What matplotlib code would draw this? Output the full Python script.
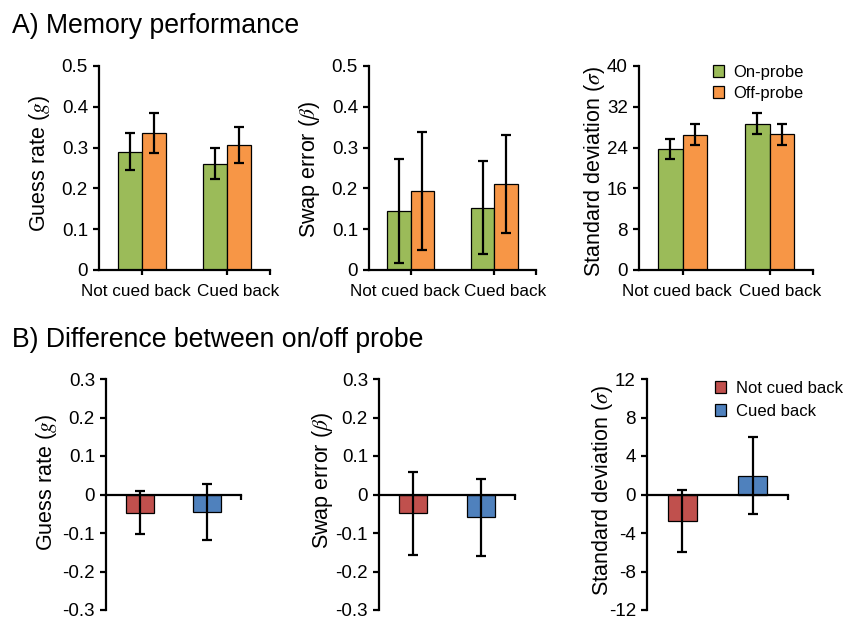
import matplotlib
matplotlib.use('Agg')
import matplotlib.pyplot as plt
import numpy as np
from matplotlib.patches import Patch

plt.rcParams['font.family'] = ['Liberation Sans', 'DejaVu Sans']
plt.rcParams['mathtext.fontset'] = 'stix'

# ---------------- data ----------------
categories = ['Not cued back', 'Cued back']
conditions = ['On-probe', 'Off-probe']

guess_on = [0.290, 0.261]
guess_on_err = [0.045, 0.037]
guess_off = [0.336, 0.306]
guess_off_err = [0.049, 0.044]

swap_on = [0.145, 0.153]
swap_on_err = [0.127, 0.113]
swap_off = [0.194, 0.211]
swap_off_err = [0.144, 0.120]

sd_on = [23.75, 28.65]
sd_on_err = [2.0, 2.05]
sd_off = [26.56, 26.62]
sd_off_err = [2.1, 2.1]

diff_labels = ['Not cued back', 'Cued back']
diff_guess = [-0.047, -0.046]
diff_guess_err = [0.056, 0.072]
diff_swap = [-0.049, -0.059]
diff_swap_err = [0.107, 0.100]
diff_sd = [-2.76, 1.97]
diff_sd_err = [3.2, 4.0]

top_yticks = [
    [0, 0.1, 0.2, 0.3, 0.4, 0.5],
    [0, 0.1, 0.2, 0.3, 0.4, 0.5],
    [0, 8, 16, 24, 32, 40],
]
top_yticklabels = [
    ['0', '0.1', '0.2', '0.3', '0.4', '0.5'],
    ['0', '0.1', '0.2', '0.3', '0.4', '0.5'],
    ['0', '8', '16', '24', '32', '40'],
]
bot_yticks = [
    [-0.3, -0.2, -0.1, 0, 0.1, 0.2, 0.3],
    [-0.3, -0.2, -0.1, 0, 0.1, 0.2, 0.3],
    [-12, -8, -4, 0, 4, 8, 12],
]
bot_yticklabels = [
    ['-0.3', '-0.2', '-0.1', '0', '0.1', '0.2', '0.3'],
    ['-0.3', '-0.2', '-0.1', '0', '0.1', '0.2', '0.3'],
    ['-12', '-8', '-4', '0', '4', '8', '12'],
]
ylabels = ['Guess rate ($\\mathit{g}$)', 'Swap error ($\\mathit{\\beta}$)',
           'Standard deviation ($\\mathit{\\sigma}$)']

GREEN = '#9BBB59'
ORANGE = '#F79646'
RED = '#C0504D'
BLUE = '#4F81BD'

W, H = 846, 620
fig = plt.figure(figsize=(W / 100, H / 100), dpi=100)


def ax_px(x0, x1, y0, y1):
    return fig.add_axes([x0 / W, (H - y1) / H, (x1 - x0) / W, (y1 - y0) / H])


LW = 1.6
FS = 12.3
YFS = 13.5
LFS = 15.5


def style(ax):
    for s in ['top', 'right']:
        ax.spines[s].set_visible(False)
    for s in ['left', 'bottom']:
        ax.spines[s].set_linewidth(LW)
    ax.tick_params(axis='y', direction='out', length=4, width=LW, labelsize=YFS, pad=4)
    ax.tick_params(axis='x', direction='out', length=3.5, width=LW, labelsize=FS)


def place_ylabel(ax, box, xc, yfrac, text):
    ax.set_ylabel(text, fontsize=LFS)
    ax.yaxis.label.set_va('center')
    ax.yaxis.set_label_coords((xc - box[0]) / (box[1] - box[0]), yfrac)


# ---------------- top row ----------------
top_boxes = [(99, 270, 66, 270), (369, 536, 66, 270), (639, 813, 66, 270)]
top_on = [guess_on, swap_on, sd_on]
top_on_err = [guess_on_err, swap_on_err, sd_on_err]
top_off = [guess_off, swap_off, sd_off]
top_off_err = [guess_off_err, swap_off_err, sd_off_err]
top_labelx = [39, 309, 594]
top_labely = [0.52, 0.49, 0.485]

x = np.arange(len(categories))
bw = 0.28
ekw = dict(elinewidth=1.6, capthick=1.6)
for i in range(3):
    box = top_boxes[i]
    ax = ax_px(*box)
    style(ax)
    ax.bar(x - bw / 2, top_on[i], bw, color=GREEN, edgecolor='black', linewidth=0.9,
           yerr=top_on_err[i], capsize=3.5, error_kw=ekw, label=conditions[0], zorder=2)
    ax.bar(x + bw / 2, top_off[i], bw, color=ORANGE, edgecolor='black', linewidth=0.9,
           yerr=top_off_err[i], capsize=3.5, error_kw=ekw, label=conditions[1], zorder=2)
    ax.set_xlim(-0.5, 1.5)
    ax.set_ylim(top_yticks[i][0], top_yticks[i][-1])
    ax.set_yticks(top_yticks[i])
    ax.set_yticklabels(top_yticklabels[i])
    ax.set_xticks([0, 1, 1.5])
    ax.set_xticklabels(['', '', ''])
    offs = [-6, 11]
    for j, c in enumerate(categories):
        ax.annotate(c, xy=(x[j], 0), xycoords=('data', 'axes fraction'),
                    xytext=(offs[j] * 0.72, -10), textcoords='offset points',
                    ha='center', va='top', fontsize=FS)
    place_ylabel(ax, box, top_labelx[i], top_labely[i], ylabels[i])
    if i == 2:
        ax.legend(loc='upper left', bbox_to_anchor=((706 - box[0]) / (box[1] - box[0]), 1.04),
                  frameon=False, fontsize=12, handlelength=0.65, handleheight=0.75,
                  handletextpad=0.6, labelspacing=0.4, borderaxespad=0)

# ---------------- bottom row ----------------
bot_boxes = [(106, 241, 379, 610), (379, 515, 379, 610), (647, 788, 379, 610)]
bot_vals = [diff_guess, diff_swap, diff_sd]
bot_errs = [diff_guess_err, diff_swap_err, diff_sd_err]
bot_labelx = [47, 322, 602]
bot_labely = [0.55, 0.56, 0.515]
bbw = 0.41
for i in range(3):
    box = bot_boxes[i]
    ax = ax_px(*box)
    style(ax)
    ax.bar(x, bot_vals[i], bbw, color=[RED, BLUE], edgecolor='black', linewidth=0.9,
           yerr=bot_errs[i], capsize=3.5, error_kw=ekw, zorder=2)
    ax.spines['bottom'].set_position(('data', 0))
    ax.set_xlim(-0.5, 1.5)
    ax.set_ylim(bot_yticks[i][0], bot_yticks[i][-1])
    ax.set_yticks(bot_yticks[i])
    ax.set_yticklabels(bot_yticklabels[i])
    ax.set_xticks([1.5])
    ax.set_xticklabels([''])
    place_ylabel(ax, box, bot_labelx[i], bot_labely[i], ylabels[i])
    if i == 2:
        handles = [Patch(facecolor=RED, edgecolor='black', linewidth=0.9),
                   Patch(facecolor=BLUE, edgecolor='black', linewidth=0.9)]
        ax.legend(handles, diff_labels, loc='upper left',
                  bbox_to_anchor=((708 - box[0]) / (box[1] - box[0]), 1.02),
                  frameon=False, fontsize=12, handlelength=0.65, handleheight=0.75,
                  handletextpad=0.6, labelspacing=0.45, borderaxespad=0)

fig.text(12 / W, (H - 33) / H, 'A) Memory performance', fontsize=19.2, ha='left', va='baseline')
fig.text(12 / W, (H - 347) / H, 'B) Difference between on/off probe', fontsize=19.2,
         ha='left', va='baseline')

fig.savefig('out.png', dpi=100)
